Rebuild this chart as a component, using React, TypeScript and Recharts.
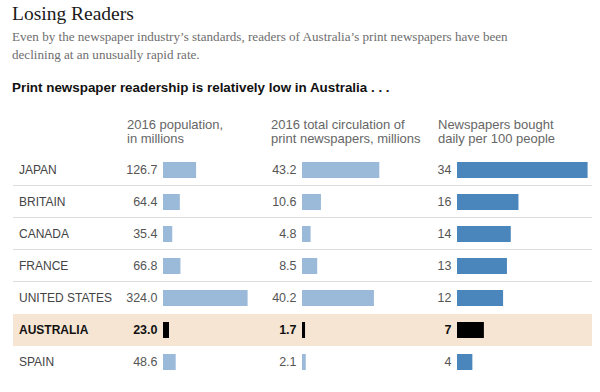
import { BarChart, Bar, XAxis, YAxis, LabelList, Cell } from 'recharts';

const countries = ['JAPAN', 'BRITAIN', 'CANADA', 'FRANCE', 'UNITED STATES', 'AUSTRALIA', 'SPAIN'];
const population = [126.7, 64.4, 35.4, 66.8, 324.0, 23.0, 48.6];
const circulation = [43.2, 10.6, 4.8, 8.5, 40.2, 1.7, 2.1];
const perHundred = [34, 16, 14, 13, 12, 7, 4];
const highlighted = 'AUSTRALIA';
const ruledRows = ['JAPAN', 'BRITAIN', 'CANADA', 'FRANCE'];

const rows = countries.map((country, i) => ({
  country,
  population: population[i],
  circulation: circulation[i],
  perHundred: perHundred[i],
  band: 1,
}));

const SANS = '"Liberation Sans", Arial, sans-serif';
const SERIF = '"Liberation Serif", "Times New Roman", serif';
const ROWS_TOP = 154;
const ROWS_H = 224;

function RowBand(props: any) {
  const { x, y, width, height, payload } = props;
  const hl = payload.country === highlighted;
  const ruled = ruledRows.includes(payload.country);
  return (
    <g>
      <rect x={x} y={y} width={width} height={height} fill={hl ? '#f7e5d3' : 'none'} />
      {ruled && <line x1={x} x2={x + width} y1={y + height - 0.5} y2={y + height - 0.5} stroke="#dcdcdc" />}
    </g>
  );
}

function CountryLabel(props: any) {
  const vb = props.viewBox || props;
  const name = countries[props.index];
  const hl = name === highlighted;
  return (
    <text x={vb.x + 6} y={vb.y + vb.height / 2} dominantBaseline="central" fontFamily={SANS}
      fontSize={12} fontWeight={hl ? 700 : 400} fill={hl ? '#111' : '#444'}>
      {name}
    </text>
  );
}

const valueLabel = (digits: number) => (props: any) => {
  const vb = props.viewBox || props;
  const hl = countries[props.index] === highlighted;
  return (
    <text x={vb.x - 5.5} y={vb.y + vb.height / 2} textAnchor="end" dominantBaseline="central"
      fontFamily={SANS} fontSize={12.5} fontWeight={hl ? 700 : 400} fill={hl ? '#111' : '#555'}>
      {Number(props.value).toFixed(digits)}
    </text>
  );
};

type ColumnProps = { dataKey: string; barStart: number; plotWidth: number; max: number; color: string; digits: number };

function Column({ dataKey, barStart, plotWidth, max, color, digits }: ColumnProps) {
  const padLeft = 50;
  return (
    <div style={{ position: 'absolute', left: barStart - padLeft, top: ROWS_TOP }}>
      <BarChart layout="vertical" width={padLeft + plotWidth + 4} height={ROWS_H} data={rows}
        margin={{ top: 0, right: 4, bottom: 0, left: padLeft }} barSize={16}>
        <XAxis type="number" domain={[0, max]} hide />
        <YAxis type="category" dataKey="country" hide />
        <Bar dataKey={dataKey} isAnimationActive={false}>
          {rows.map((r) => (
            <Cell key={r.country} fill={r.country === highlighted ? '#000' : color} />
          ))}
          <LabelList dataKey={dataKey} content={valueLabel(digits)} />
        </Bar>
      </BarChart>
    </div>
  );
}

const headerStyle = { position: 'absolute' as const, top: 118, fontFamily: SANS, fontSize: 13, lineHeight: '14px', color: '#666', whiteSpace: 'nowrap' as const };

export default function App() {
  return (
    <div style={{ position: 'absolute', left: 0, top: 0, width: 600, height: 392, background: '#fff', overflow: 'hidden' }}>
      <div style={{ position: 'absolute', left: 12, top: 3, fontFamily: SERIF, fontSize: 19.5, lineHeight: '22px', color: '#1a1a1a', whiteSpace: 'nowrap' }}>
        Losing Readers
      </div>
      <div style={{ position: 'absolute', left: 12, top: 28, fontFamily: SERIF, fontSize: 13.1, lineHeight: '18px', color: '#6e6e6e', whiteSpace: 'nowrap' }}>
        <div>Even by the newspaper industry’s standards, readers of Australia’s print newspapers have been</div>
        <div>declining at an unusually rapid rate.</div>
      </div>
      <div style={{ position: 'absolute', left: 12, top: 80, fontFamily: '"Liberation Sans Narrow", "Arial Narrow", sans-serif', fontSize: 13.4, fontWeight: 700, lineHeight: '16px', color: '#111', whiteSpace: 'nowrap' }}>
        Print newspaper readership is relatively low in Australia . . .
      </div>
      <div style={{ ...headerStyle, left: 127 }}>2016 population,<br />in millions</div>
      <div style={{ ...headerStyle, left: 271 }}>2016 total circulation of<br />print newspapers, millions</div>
      <div style={{ ...headerStyle, left: 438 }}>Newspapers bought<br />daily per 100 people</div>

      <div style={{ position: 'absolute', left: 0, top: ROWS_TOP }}>
        <BarChart layout="vertical" width={600} height={ROWS_H} data={rows}
          margin={{ top: 0, right: 8, bottom: 0, left: 13 }} barCategoryGap={0}>
          <XAxis type="number" domain={[0, 1]} hide />
          <YAxis type="category" dataKey="country" hide />
          <Bar dataKey="band" isAnimationActive={false} shape={RowBand}>
            <LabelList dataKey="country" content={CountryLabel} />
          </Bar>
        </BarChart>
      </div>

      <Column dataKey="population" barStart={163.3} plotWidth={84.6} max={324} color="#9bb9d9" digits={1} />
      <Column dataKey="circulation" barStart={301.5} plotWidth={77.3} max={43.2} color="#9bb9d9" digits={1} />
      <Column dataKey="perHundred" barStart={456.7} plotWidth={130.6} max={34} color="#4a86bb" digits={0} />
    </div>
  );
}
